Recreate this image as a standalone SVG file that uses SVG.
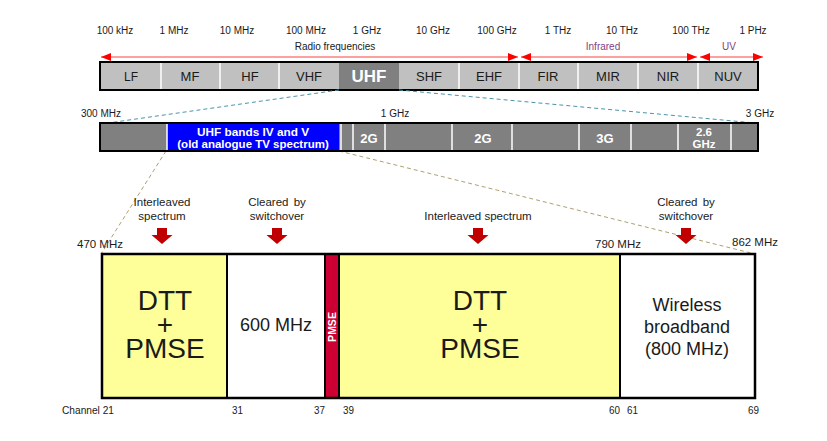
<svg xmlns="http://www.w3.org/2000/svg" width="827" height="441" viewBox="0 0 827 441">
<defs>
<marker id="ah" viewBox="0 0 10 8" refX="10" refY="4" markerWidth="10" markerHeight="8" markerUnits="userSpaceOnUse" orient="auto-start-reverse">
<path d="M0,0 L10,4 L0,8 Z" fill="#ff0000"/>
</marker>
<path id="darrow" d="M-5,0 H5 V7 H10.5 L0,16 L-10.5,7 H-5 Z" fill="#c00000"/>
</defs>
<style>
text{font-family:"Liberation Sans",Arial,sans-serif;fill:#1a1a1a}
.f{font-size:10px;text-anchor:middle}
.cell{fill:#c0c0c0;stroke:none}
.bt{font-size:13px;text-anchor:middle}
.sep{stroke:#ffffff;stroke-width:1.5}
.g2{fill:#808080}
.wt{fill:#ffffff;font-weight:bold;text-anchor:middle}
.lab{font-size:11.5px;text-anchor:middle}
.big{font-size:28px;text-anchor:middle}
.mid{font-size:18px;text-anchor:middle}
.ch{font-size:10.5px}
.frame{fill:none;stroke:#000;stroke-width:2.5}
.rl{stroke:#ff8080;stroke-width:1.5;marker-start:url(#ah);marker-end:url(#ah)}
.tl{stroke:#4a94ac;stroke-width:1;stroke-dasharray:4,3;fill:none}
.dl{stroke:#b0a070;stroke-width:1;stroke-dasharray:4,3;fill:none}
</style>

<g id="freq-labels">
<text class="f" x="115" y="34">100 kHz</text>
<text class="f" x="174" y="34">1 MHz</text>
<text class="f" x="237" y="34">10 MHz</text>
<text class="f" x="306" y="34">100 MHz</text>
<text class="f" x="367" y="34">1 GHz</text>
<text class="f" x="433" y="34">10 GHz</text>
<text class="f" x="497" y="34">100 GHz</text>
<text class="f" x="558" y="34">1 THz</text>
<text class="f" x="622" y="34">10 THz</text>
<text class="f" x="691" y="34">100 THz</text>
<text class="f" x="753" y="34">1 PHz</text>
</g>

<g id="ranges">
<text class="f" x="335" y="50">Radio frequencies</text>
<text class="f" x="603" y="50" style="fill:#7f3f7f">Infrared</text>
<text class="f" x="729" y="50" style="fill:#7f3f7f">UV</text>
<line class="rl" x1="101" y1="57" x2="518" y2="57"/>
<line class="rl" x1="521" y1="57" x2="697" y2="57"/>
<line class="rl" x1="700" y1="57" x2="763" y2="57"/>
</g>

<g id="spectrum-bar">
<rect class="cell" x="100" y="62" width="658" height="28"/>
<rect class="g2" x="339" y="62" width="60" height="28"/>
<line class="sep" x1="161" y1="63" x2="161" y2="89"/>
<line class="sep" x1="220" y1="63" x2="220" y2="89"/>
<line class="sep" x1="279" y1="63" x2="279" y2="89"/>
<line class="sep" x1="459" y1="63" x2="459" y2="89"/>
<line class="sep" x1="519" y1="63" x2="519" y2="89"/>
<line class="sep" x1="578" y1="63" x2="578" y2="89"/>
<line class="sep" x1="638" y1="63" x2="638" y2="89"/>
<line class="sep" x1="698" y1="63" x2="698" y2="89"/>
<rect x="100" y="62" width="658" height="28" fill="none" stroke="#000" stroke-width="2"/>
<text class="bt" x="131" y="81" style="font-size:12px">LF</text>
<text class="bt" x="190" y="81">MF</text>
<text class="bt" x="250" y="81">HF</text>
<text class="bt" x="309" y="81">VHF</text>
<text class="wt" x="369" y="82" style="font-size:17px">UHF</text>
<text class="bt" x="429" y="81">SHF</text>
<text class="bt" x="489" y="81">EHF</text>
<text class="bt" x="548" y="81">FIR</text>
<text class="bt" x="608" y="81">MIR</text>
<text class="bt" x="668" y="81">NIR</text>
<text class="bt" x="728" y="81">NUV</text>
</g>

<g id="connectors">
<line class="tl" x1="339" y1="90" x2="108" y2="123"/>
<line class="tl" x1="399" y1="90" x2="755" y2="123"/>
<line class="dl" x1="166" y1="151" x2="101" y2="254"/>
<line class="dl" x1="339" y1="151" x2="755" y2="254"/>
</g>

<g id="uhf-bar">
<text class="f" x="101" y="117">300 MHz</text>
<text class="f" x="395" y="117">1 GHz</text>
<text class="f" x="760" y="117">3 GHz</text>
<rect class="g2" x="100" y="123" width="658" height="28"/>
<rect x="167" y="123" width="172" height="28" fill="#0000ff"/>
<line class="sep" x1="167" y1="124" x2="167" y2="150"/>
<line class="sep" x1="341" y1="124" x2="341" y2="150"/>
<line class="sep" x1="353" y1="124" x2="353" y2="150"/>
<line class="sep" x1="385" y1="124" x2="385" y2="150"/>
<line class="sep" x1="452" y1="124" x2="452" y2="150"/>
<line class="sep" x1="512" y1="124" x2="512" y2="150"/>
<line class="sep" x1="579" y1="124" x2="579" y2="150"/>
<line class="sep" x1="631" y1="124" x2="631" y2="150"/>
<line class="sep" x1="678" y1="124" x2="678" y2="150"/>
<line class="sep" x1="731" y1="124" x2="731" y2="150"/>
<rect x="100" y="123" width="658" height="28" fill="none" stroke="#000" stroke-width="2"/>
<text class="wt" x="253" y="135.5" style="font-size:11.8px">UHF bands IV and V</text>
<text class="wt" x="253" y="148" style="font-size:11.5px">(old analogue TV spectrum)</text>
<text class="wt" x="369" y="142.5" style="font-size:13px">2G</text>
<text class="wt" x="483" y="142.5" style="font-size:13px">2G</text>
<text class="wt" x="605" y="142.5" style="font-size:13px">3G</text>
<text class="wt" x="704" y="136" style="font-size:11.5px">2.6</text>
<text class="wt" x="704" y="148" style="font-size:11.5px">GHz</text>
</g>

<g id="annotations">
<text class="lab" x="162" y="206">Interleaved</text>
<text class="lab" x="162" y="220">spectrum</text>
<use href="#darrow" x="162" y="228"/>
<text class="lab" x="277" y="206" style="word-spacing:2px">Cleared by</text>
<text class="lab" x="277" y="220">switchover</text>
<use href="#darrow" x="277" y="228"/>
<text class="lab" x="478" y="220">Interleaved spectrum</text>
<use href="#darrow" x="478" y="228"/>
<text class="lab" x="686" y="206" style="word-spacing:2px">Cleared by</text>
<text class="lab" x="686" y="220">switchover</text>
<use href="#darrow" x="686" y="228"/>
<text class="lab" x="100" y="248">470 MHz</text>
<text class="lab" x="618" y="248">790 MHz</text>
<text class="lab" x="755" y="246">862 MHz</text>
</g>

<g id="band-dtt1">
<rect x="102" y="254" width="125" height="144" fill="#ffff99"/>
<text class="big" x="165" y="310">DTT</text>
<text class="big" x="165" y="334">+</text>
<text class="big" x="165" y="358">PMSE</text>
</g>
<g id="band-600">
<rect x="227" y="254" width="98" height="144" fill="#ffffff"/>
<text class="mid" x="276" y="331">600 MHz</text>
</g>
<g id="band-pmse">
<rect x="325" y="254" width="14" height="144" fill="#cc0033"/>
<text class="wt" x="0" y="0" style="font-size:10.5px" transform="translate(335.8,327) rotate(-90)">PMSE</text>
</g>
<g id="band-dtt2">
<rect x="339" y="254" width="281" height="144" fill="#ffff99"/>
<text class="big" x="480" y="310">DTT</text>
<text class="big" x="480" y="334">+</text>
<text class="big" x="480" y="358">PMSE</text>
</g>
<g id="band-wireless">
<rect x="620" y="254" width="135" height="144" fill="#ffffff"/>
<text class="mid" x="687" y="311">Wireless</text>
<text class="mid" x="687" y="333">broadband</text>
<text class="mid" x="687" y="355">(800 MHz)</text>
</g>
<g id="band-frame">
<rect class="frame" x="102" y="254" width="653" height="144"/>
<line x1="227" y1="254" x2="227" y2="398" stroke="#000" stroke-width="2"/>
<line x1="325" y1="254" x2="325" y2="398" stroke="#000" stroke-width="2"/>
<line x1="339" y1="254" x2="339" y2="398" stroke="#000" stroke-width="2"/>
<line x1="620" y1="254" x2="620" y2="398" stroke="#000" stroke-width="2"/>
</g>

<g id="channels">
<text class="ch" x="62" y="414" textLength="52" lengthAdjust="spacingAndGlyphs">Channel 21</text>
<text class="ch" x="232" y="414" textLength="11" lengthAdjust="spacingAndGlyphs">31</text>
<text class="ch" x="314" y="414" textLength="11" lengthAdjust="spacingAndGlyphs">37</text>
<text class="ch" x="343" y="414" textLength="11" lengthAdjust="spacingAndGlyphs">39</text>
<text class="ch" x="609" y="414" textLength="11" lengthAdjust="spacingAndGlyphs">60</text>
<text class="ch" x="627" y="414" textLength="11" lengthAdjust="spacingAndGlyphs">61</text>
<text class="ch" x="748" y="414" textLength="11" lengthAdjust="spacingAndGlyphs">69</text>
</g>
</svg>
